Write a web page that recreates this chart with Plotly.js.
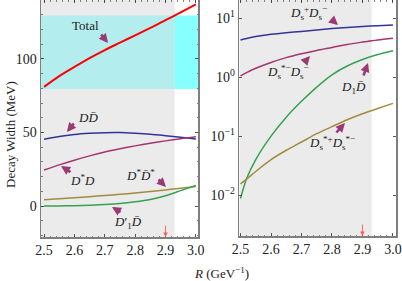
<!DOCTYPE html>
<html>
<head>
<meta charset="utf-8">
<script src="https://cdn.plot.ly/plotly-3.0.1.min.js"></script>
<style>html,body{margin:0;padding:0;background:#fff;}#chart{width:402px;height:281px;}</style>
</head>
<body>
<div id="chart"></div>
<script>
// ---- data (left panel, linear, MeV) ----
const xLeft = [2.5, 2.55, 2.6, 2.65, 2.7, 2.75, 2.8, 2.85, 2.9, 2.95, 3.0];
const total = [81, 88.3, 94.5, 100.5, 106, 111, 116, 121, 126.3, 131.6, 137];
const dDbar = [45.4, 47.3, 48.6, 49.4, 49.9, 50.0, 49.5, 48.8, 47.8, 46.7, 45.6];
const dStarD = [24.5, 28, 31.2, 34.1, 36.7, 38.9, 40.9, 42.7, 44.3, 45.8, 47.1];
const dStarDStar = [4.3, 5.0, 5.7, 6.4, 7.2, 8.0, 8.9, 9.9, 11.0, 12.1, 13.3];
const d1pDbar = [0, 0.1, 0.3, 0.6, 1.0, 1.7, 2.9, 4.5, 7.0, 10.5, 14.0];

// ---- data (right panel, log, MeV) ----
const xRight = [2.5, 2.52, 2.55, 2.6, 2.65, 2.7, 2.75, 2.8, 2.85, 2.9, 2.95, 3.0];
const dsDs = [4.3, 4.55, 4.9, 5.35, 5.7, 6.0, 6.35, 6.7, 7.0, 7.25, 7.5, 7.7];
const dsStarDs = [1.05, 1.2, 1.42, 1.78, 2.15, 2.5, 2.85, 3.2, 3.6, 3.95, 4.3, 4.6];
const d1Dbar = [0.0087, 0.019, 0.040, 0.10, 0.21, 0.39, 0.68, 1.10, 1.55, 2.0, 2.43, 2.82];
const dsStarDsStar = [0.0155, 0.0186, 0.0251, 0.0398, 0.0575, 0.0794, 0.110, 0.145, 0.19, 0.24, 0.295, 0.36];

// ---- ranges / bands ----
const grayEnd = 2.93;
const bandLow = 79.5, bandHigh = 129.5;
const arrowX = 2.9;
const xTicks = [2.5, 2.6, 2.7, 2.8, 2.9, 3.0];
const xTickText = ['2.5', '2.6', '2.7', '2.8', '2.9', '3.0'];
const yTicksL = [0, 50, 100];
const yTicksR = [0.01, 0.1, 1, 10];
const yTickTextR = ['10<sup>−2</sup>', '10<sup>−1</sup>', '10<sup>0</sup>', '10<sup>1</sup>'];

const W = 402, H = 281;
const FONT = 'serif';
const FRAME = '#7f7f7f';
const C = {red: '#ff0000', blue: '#34339a', magenta: '#a3366f', gold: '#a18d3e', green: '#36a150', purple: '#993a72'};

function line(x, y, color, xa, ya, w) {
  return {x: x, y: y, xaxis: xa, yaxis: ya, type: 'scatter', mode: 'lines',
    line: {color: color, width: w || 1.5, shape: 'spline', smoothing: 0.8}, hoverinfo: 'skip', showlegend: false};
}

const traces = [
  line(xLeft, total, C.red, 'x', 'y', 2),
  line(xLeft, dDbar, C.blue, 'x', 'y'),
  line(xLeft, dStarD, C.magenta, 'x', 'y'),
  line(xLeft, dStarDStar, C.gold, 'x', 'y'),
  line(xLeft, d1pDbar, C.green, 'x', 'y'),
  line(xRight, dsDs, C.blue, 'x2', 'y2'),
  line(xRight, dsStarDs, C.magenta, 'x2', 'y2'),
  line(xRight, d1Dbar, C.green, 'x2', 'y2'),
  line(xRight, dsStarDsStar, C.gold, 'x2', 'y2'),
];

const px = v => v / W, py = v => 1 - v / H;

function axisX(domain, range, anchor) {
  return {domain: domain, range: range, anchor: anchor, showgrid: false, zeroline: false,
    showline: true, linecolor: FRAME, linewidth: 1.5, mirror: 'ticks',
    ticks: 'inside', ticklen: 3, tickwidth: 0.8, tickcolor: '#333',
    tickvals: xTicks, ticktext: xTickText,
    minor: {dtick: 0.02, ticks: 'inside', ticklen: 1.5, tickwidth: 0.6, tickcolor: '#333', showgrid: false},
    tickfont: {family: FONT, size: 14, color: '#222'}};
}

const layout = {
  width: W, height: H,
  margin: {l: 0, r: 0, t: 0, b: 0},
  font: {family: FONT},
  paper_bgcolor: '#fff', plot_bgcolor: 'rgba(0,0,0,0)',
  showlegend: false,
  xaxis: axisX([41 / W, 198 / W], [2.49, 3.007], 'y'),
  yaxis: {domain: [1 - 237 / H, 1], range: [-21, 140], anchor: 'x', showgrid: false, zeroline: false,
    showline: true, linecolor: FRAME, linewidth: 1.5, mirror: 'ticks',
    ticks: 'inside', ticklen: 3, tickwidth: 0.8, tickcolor: '#333', tickvals: yTicksL,
    minor: {dtick: 10, ticks: 'inside', ticklen: 1.5, tickwidth: 0.6, tickcolor: '#333', showgrid: false},
    tickfont: {family: FONT, size: 14, color: '#222'}},
  xaxis2: axisX([239.3 / W, 396 / W], [2.496, 3.01], 'y2'),
  yaxis2: {domain: [1 - 236 / H, 1], type: 'log', range: [-2.696, 1.311], anchor: 'x2', showgrid: false, zeroline: false,
    showline: true, linecolor: FRAME, linewidth: 1.5, mirror: 'ticks',
    ticks: 'inside', ticklen: 3, tickwidth: 0.8, tickcolor: '#333',
    tickvals: yTicksR, ticktext: yTickTextR,
    tickfont: {family: FONT, size: 14, color: '#222'}},
  shapes: [
    {type: 'rect', xref: 'x', yref: 'paper', x0: 2.49, x1: grayEnd, y0: 1 - 237 / H, y1: 1, fillcolor: '#ebebeb', line: {width: 0}, layer: 'below'},
    {type: 'rect', xref: 'x', yref: 'y', x0: 2.49, x1: grayEnd, y0: bandLow, y1: bandHigh, fillcolor: '#b3eded', line: {width: 0}, layer: 'below'},
    {type: 'rect', xref: 'x', yref: 'y', x0: grayEnd, x1: 3.007, y0: bandLow, y1: bandHigh, fillcolor: '#88ffff', line: {width: 0}, layer: 'below'},
    {type: 'rect', xref: 'x2', yref: 'paper', x0: 2.496, x1: grayEnd, y0: 1 - 236 / H, y1: 1, fillcolor: '#ebebeb', line: {width: 0}, layer: 'below'},
  ],
  annotations: []
};

const A = layout.annotations;
function label(text, x, y) {
  A.push({xref: 'paper', yref: 'paper', x: px(x), y: py(y), xanchor: 'center', yanchor: 'middle',
    text: text, showarrow: false, font: {family: FONT, size: 13, color: '#222'}});
}
function pointer(x0, y0, x1, y1) {
  A.push({xref: 'paper', yref: 'paper', x: px(x1), y: py(y1), ax: x0 - x1, ay: y0 - y1, text: '',
    showarrow: true, arrowhead: 2, arrowsize: 0.7, arrowwidth: 2.6, arrowcolor: C.purple, standoff: 0});
}

label('Total', 85, 25); pointer(100, 33, 108, 43);
label('<i>DD̄</i>', 88, 117); pointer(75, 122, 67, 132);
label('<i>D</i><sup>*</sup><i>D</i>', 82, 180); pointer(72, 173, 61, 166);
label('<i>D</i><sup>*</sup><i>D̄</i><sup>*</sup>', 140, 175); pointer(157, 178, 166, 187);
label('<i>D</i>′<sub>1</sub><i>D̄</i>', 128, 222); pointer(122, 213, 112, 207);

label('<i>D</i><sub>s</sub><sup>+</sup><i>D</i><sub>s</sub><sup>−</sup>', 308, 13); pointer(330, 18, 338, 25);
label('<i>D</i><sub>s</sub><sup>*−</sup><i>D</i><sub>s</sub><sup>−</sup>', 288, 72); pointer(303, 64, 310, 56);
label('<i>D</i><sub>1</sub><i>D̄</i>', 353, 87); pointer(363, 77, 368, 63);
label('<i>D</i><sub>s</sub><sup>*+</sup><i>D</i><sub>s</sub><sup>*−</sup>', 332, 143); pointer(335, 134, 345, 123);

// red arrows at R = 2.9
[['x', 237], ['x2', 236]].forEach(([xr, yb]) => {
  A.push({xref: xr, yref: 'paper', x: arrowX, y: py(yb), ax: 0, ay: -13, text: '', showarrow: true,
    arrowhead: 2, arrowsize: 1, arrowwidth: 0.9, arrowcolor: '#ff5a5a', standoff: 0});
});

// axis titles
A.push({xref: 'paper', yref: 'paper', x: px(10), y: py(135), text: 'Decay Width (MeV)', textangle: -90,
  showarrow: false, xanchor: 'center', yanchor: 'middle', font: {family: FONT, size: 13, color: '#222'}});
A.push({xref: 'paper', yref: 'paper', x: px(221), y: py(273), text: '<i>R</i> (GeV<sup>−1</sup>)',
  showarrow: false, xanchor: 'center', yanchor: 'middle', font: {family: FONT, size: 13, color: '#222'}});

Plotly.newPlot('chart', traces, layout, {staticPlot: true, displayModeBar: false});
</script>
</body>
</html>
